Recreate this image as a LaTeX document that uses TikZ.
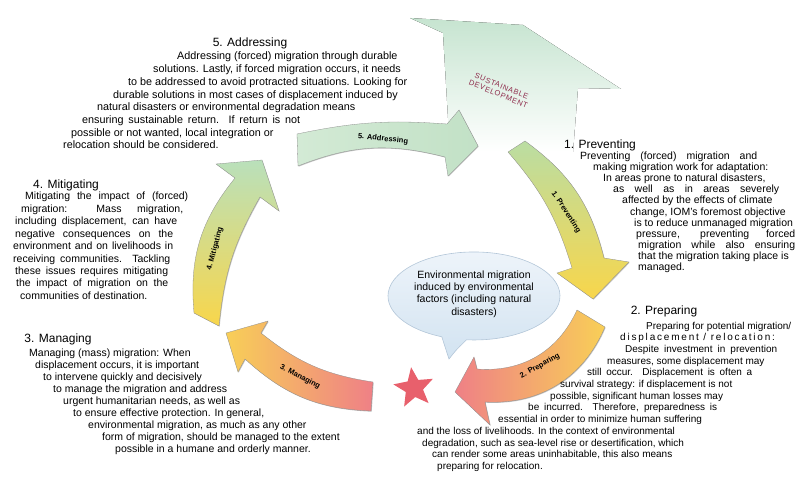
\documentclass[tikz,border=0pt]{standalone}
\usepackage{fontspec}
\setmainfont{Liberation Sans}
\usetikzlibrary{shapes.geometric,shadows}

\definecolor{mint}{HTML}{D3EAD5}
\definecolor{mintdark}{HTML}{C2E1C6}
\definecolor{leaf}{HTML}{BADDA3}
\definecolor{sun}{HTML}{F8D64B}
\definecolor{amber}{HTML}{F8CF57}
\definecolor{rose}{HTML}{EF8086}
\definecolor{sage}{HTML}{B9E0BB}
\definecolor{sdgreen}{HTML}{C6E4D0}
\definecolor{sdred}{HTML}{8E2C4C}
\definecolor{starred}{HTML}{E8606C}
\definecolor{bubtop}{HTML}{EEF4FA}
\definecolor{bubbot}{HTML}{D2E3F1}
\definecolor{bubline}{HTML}{B3C6D8}

% width 0 = natural, else spread to width
\newcommand{\jl}[2]{\ifnum#1=0 #2\else\makebox[#1pt][s]{#2}\fi}

\begin{document}
\begin{tikzpicture}[x=1pt,y=-1pt,
  ring/.style={draw=black!45,line width=0.3pt,drop shadow={shadow xshift=0.7pt,shadow yshift=-0.7pt,opacity=0.45}},
  arrlabel/.style={font=\fontsize{7.5}{8}\selectfont\bfseries,inner sep=0pt},
  headtxt/.style={font=\fontsize{12}{14}\selectfont,inner sep=0pt},
  bodyline/.style={anchor=base west,inner sep=0pt}]
\useasboundingbox (0,0) rectangle (797,481);

% sustainable development
\fill[top color=sdgreen,bottom color=white] (410,18) -- (523,25) -- (621,89) -- (578,88) -- (573,152) -- (450,152) -- (443,33) -- cycle;
\node (sd) [rotate=-22,text=sdred,align=center,font=\fontsize{7.5}{8.5}\selectfont\addfontfeature{LetterSpace=8}] at (500,90) {SUSTAINABLE\\DEVELOPMENT};

% the cycle
\draw[ring,left color=mint,right color=mintdark] (297,134) to[bend left=8] (447,124) -- (459,110) -- (478,146) -- (448,176) -- (445,157) to[bend right=18] (298,166) -- cycle;
\draw[ring,top color=leaf,bottom color=sun] (525,141) to[bend left=20] (604,258) -- (629,262) -- (593,299) -- (557,273) -- (572,268) to[bend right=12] (508,152) -- cycle;
\draw[ring,left color=rose,right color=amber] (605,327) to[bend left=35] (485,402) -- (490,425) -- (455,392) -- (474,357) -- (477,369) to[bend right=35] (577,310) -- cycle;
\draw[ring,left color=amber,right color=rose] (371,411) to[bend left=20] (245,359) -- (238,372) -- (226,333) -- (268,321) -- (261,333) to[bend right=15] (373,382) -- cycle;
\draw[ring,top color=sage,bottom color=sun] (194,313) to[bend left=22] (235,178) -- (216,164) -- (262,160) -- (279,211) -- (260,197) to[bend right=12] (219,326) -- cycle;

\node (lbladd) [arrlabel,rotate=-6] at (383,139) {5. Addressing};
\node (lblprv) [arrlabel,rotate=-57] at (566,212) {1. Preventing};
\node (lblprp) [arrlabel,rotate=29] at (540,366) {2. Preparing};
\node (lblman) [arrlabel,rotate=-27] at (300,377) {3. Managing};
\node (lblmit) [arrlabel,rotate=75] at (215,249) {4. Mitigating};

\node (star) [star,star points=5,star point ratio=2.3,minimum size=42pt,inner sep=0pt,fill=starred,rotate=8] at (414,388) {};

% speech bubble
\draw[top color=bubtop,bottom color=bubbot,draw=bubline,line width=0.6pt] (466.5,339.8) arc[start angle=95,end angle=-248,x radius=86,y radius=44] .. controls (446,348) .. (449,359) .. controls (456,350) .. (466.5,339.8) -- cycle;
\node (bub) [align=center,font=\fontsize{10.5}{12.3}\selectfont] at (474,294) {Environmental migration\\induced by environmental\\factors (including natural\\disasters)};

% 5
\node (addhead) [headtxt] at (250,43) {5. Addressing};
\foreach \dx/\w/\txt [count=\i from 0] in {
  115/0/{Addressing (forced) migration through durable},
  91/0/{solutions. Lastly, if forced migration occurs, it needs},
  66/0/{to be addressed to avoid protracted situations. Looking for},
  51/0/{durable solutions in most cases of displacement induced by},
  35/0/{natural disasters or environmental degradation means},
  20/218/{ensuring sustainable return. If return is not},
  9/0/{possible or not wanted, local integration or},
  1/0/{relocation should be considered.}}
  \node (add\i) [bodyline,font=\fontsize{10.8}{12}\selectfont] at ({62+\dx},{60+12.7*\i}) {\jl{\w}{\txt}};

% 4
\node (mithead) [headtxt] at (66,185) {4. Mitigating};
\foreach \dx/\w/\txt [count=\i from 0] in {
  12/163/{Mitigating the impact of (forced)},
  8/162/{migration: Mass migration,},
  2/162/{including displacement, can have},
  2/158/{negative consequences on the},
  0/160/{environment and on livelihoods in},
  0/157/{receiving communities. Tackling},
  2/153/{these issues requires mitigating},
  3/152/{the impact of migration on the},
  7/0/{communities of destination.}}
  \node (mit\i) [bodyline,font=\fontsize{10.5}{12}\selectfont] at ({13+\dx},{200+12.4*\i}) {\jl{\w}{\txt}};

% 3
\node (manhead) [headtxt] at (58,339) {3. Managing};
\foreach \dx/\txt [count=\i from 0] in {
  0/{Managing (mass) migration: When},
  6/{displacement occurs, it is important},
  14/{to intervene quickly and decisively},
  24/{to manage the migration and address},
  34/{urgent humanitarian needs, as well as},
  44/{to ensure effective protection. In general,},
  59/{environmental migration, as much as any other},
  73/{form of migration, should be managed to the extent},
  86/{possible in a humane and orderly manner.}}
  \node (man\i) [bodyline,font=\fontsize{10.5}{12}\selectfont] at ({29+\dx},{356+12.1*\i}) {\txt};

% 1
\node (prvhead) [headtxt] at (600,145) {1. Preventing};
\foreach \dx/\w/\txt [count=\i from 0] in {
  0/177/{Preventing (forced) migration and},
  13/0/{making migration work for adaptation:},
  23/0/{In areas prone to natural disasters,},
  33/166/{as well as in areas severely},
  42/0/{affected by the effects of climate},
  50/0/{change, IOM’s foremost objective},
  54/0/{is to reduce unmanaged migration},
  56/159/{pressure, preventing forced},
  58/157/{migration while also ensuring},
  58/0/{that the migration taking place is},
  58/0/{managed.}}
  \node (prv\i) [bodyline,font=\fontsize{10.5}{12}\selectfont] at ({580+\dx},{160+11*\i}) {\jl{\w}{\txt}};

% 2
\node (prphead) [headtxt] at (664,311) {2. Preparing};
\foreach \dx/\w/\txt [count=\i from 0] in {
  229/0/{Preparing for potential migration/},
  203/0/{\addfontfeature{LetterSpace=18}displacement / relocation:},
  208/152/{Despite investment in prevention},
  190/0/{measures, some displacement may},
  170/165/{still occur. Displacement is often a},
  143/0/{survival strategy: if displacement is not},
  133/0/{possible, significant human losses may},
  111/189/{be incurred. Therefore, preparedness is},
  81/0/{essential in order to minimize human suffering},
  0/0/{and the loss of livelihoods. In the context of environmental},
  5/0/{degradation, such as sea-level rise or desertification, which},
  15/0/{can render some areas uninhabitable, this also means},
  20/0/{preparing for relocation.}}
  \node (prp\i) [bodyline,font=\fontsize{10}{11.7}\selectfont] at ({417+\dx},{329+11.7*\i}) {\jl{\w}{\txt}};
\end{tikzpicture}
\end{document}
